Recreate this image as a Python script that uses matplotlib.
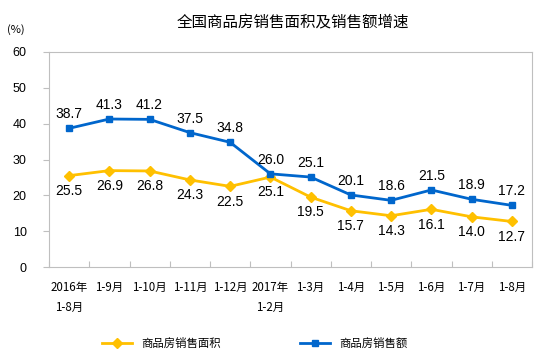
import matplotlib
matplotlib.use("Agg")
import matplotlib.pyplot as plt

plt.rcParams["font.family"] = ["Noto Sans CJK SC", "DejaVu Sans"]

categories = ["2016年\n1-8月", "1-9月", "1-10月", "1-11月", "1-12月", "2017年\n1-2月",
              "1-3月", "1-4月", "1-5月", "1-6月", "1-7月", "1-8月"]
area_growth = [25.5, 26.9, 26.8, 24.3, 22.5, 25.1, 19.5, 15.7, 14.3, 16.1, 14.0, 12.7]
sales_growth = [38.7, 41.3, 41.2, 37.5, 34.8, 26.0, 25.1, 20.1, 18.6, 21.5, 18.9, 17.2]
yticks = [0, 10, 20, 30, 40, 50, 60]

YELLOW = "#FFC000"
BLUE = "#0066CC"

fig = plt.figure(figsize=(5.4, 3.57), dpi=100)
ax = fig.add_axes([49 / 540, 1 - 267 / 357, 483 / 540, 215 / 357])

x = list(range(len(categories)))
ax.plot(x, area_growth, color=YELLOW, lw=2, marker="D", ms=5, label="商品房销售面积")
ax.plot(x, sales_growth, color=BLUE, lw=2, marker="s", ms=5, label="商品房销售额")

for xi, v in zip(x, area_growth):
    ax.annotate(f"{v:.1f}", (xi, v), xytext=(0, -6), textcoords="offset points",
                ha="center", va="top", fontsize=10, family="Liberation Sans")
for xi, v in zip(x, sales_growth):
    ax.annotate(f"{v:.1f}", (xi, v), xytext=(0, 5), textcoords="offset points",
                ha="center", va="bottom", fontsize=10, family="Liberation Sans")

ax.set_xlim(-0.5, len(categories) - 0.5)
ax.set_ylim(0, 60)
ax.set_yticks(yticks)
ax.set_yticklabels([str(t) for t in yticks], family="Liberation Sans", fontsize=9)

# category labels between boundary ticks
ax.set_xticks([i - 0.5 for i in range(len(categories) + 1)])
ax.set_xticklabels([])
ax.set_xticks(x, minor=True)
ax.set_xticklabels(categories, minor=True, fontsize=8.3, linespacing=1.75)
ax.tick_params(axis="x", which="minor", length=0, pad=10)
ax.tick_params(axis="x", which="major", length=4, color="#BFBFBF", direction="in")
ax.tick_params(axis="y", length=4, color="#BFBFBF", pad=12)
for sp in ax.spines.values():
    sp.set_color("#BFBFBF")

ax.set_title("全国商品房销售面积及销售额增速", fontsize=11.2, pad=18, x=0.505)
fig.text(7 / 540, 1 - 30 / 357, "(%)", fontsize=8, va="center")

fig.legend(loc="lower center", ncol=2, frameon=False, fontsize=8.2,
           bbox_to_anchor=(0.472, -0.005), columnspacing=7, handlelength=2.6)

fig.savefig("out.png", dpi=100)
